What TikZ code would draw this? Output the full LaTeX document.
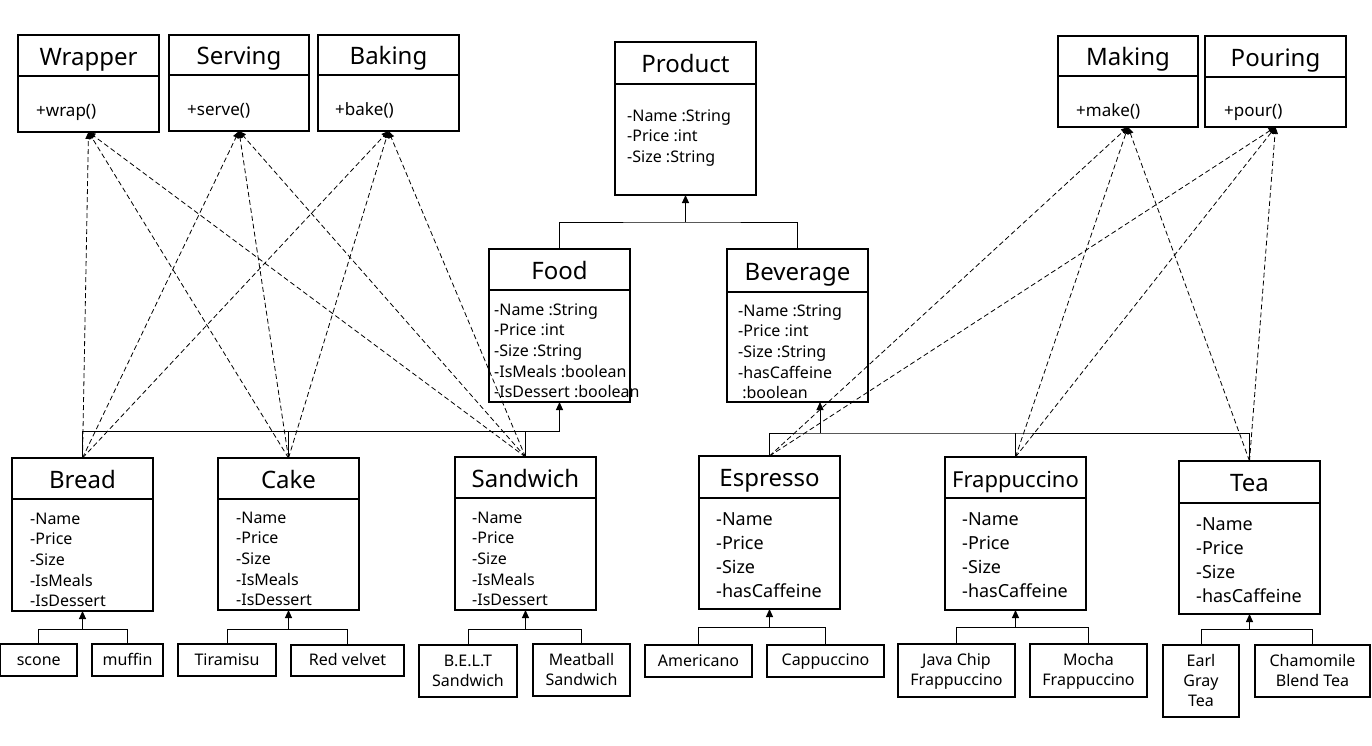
\documentclass[tikz,border=0pt]{standalone}
\usepackage{fontspec}
\setmainfont{Noto Sans}
\usetikzlibrary{arrows.meta,calc}
\tikzset{
  cls/.style={draw, line width=1.2pt, inner sep=0pt, outer sep=0pt, rectangle},
  ttl/.style={font=\fontsize{24}{28}\selectfont, inner sep=0pt, text height=17pt, text depth=5pt},
  attr/.style={font=\fontsize{16}{20.7}\selectfont, inner sep=0pt, anchor=base west},
  attrb/.style={font=\fontsize{18}{24}\selectfont, inner sep=0pt, anchor=base west},
  meth/.style={font=\fontsize{17}{20}\selectfont, inner sep=0pt, anchor=base west},
  leaf/.style={draw, line width=1.2pt, inner sep=0pt, outer sep=0pt, align=center, font=\fontsize{16}{20}\selectfont},
  inh/.style={line width=1pt},
  inharrow/.style={line width=1pt, -{Triangle[length=8pt,width=7pt]}},
  real/.style={line width=0.8pt, dash pattern=on 5pt off 3pt, -{Triangle[length=7pt,width=6pt]}},
}
\newcommand\ml[1]{\begin{tabular}[t]{@{}l@{}}#1\end{tabular}}
\newcommand\lstrut{\rule[-3pt]{0pt}{16pt}}
\newcommand\umlclass[7]{%
  \node[cls, anchor=north west, minimum width={(#4-#2)*1pt}, minimum height={(#5-#3)*1pt}] (#1) at (#2,#3) {};
  \draw[line width=1.2pt] (#2,#6) -- (#4,#6);
  \node[ttl] (#1-title) at ({(#2+#4)/2},{(#3+#6)/2+3.5}) {#7};
}
\newcommand\leafbox[6]{%
  \node[leaf, minimum width={(#4-#2)*1pt}, minimum height={(#5-#3)*1pt}] (#1) at ({(#2+#4)/2},{(#3+#5)/2}) {#6};
}
\begin{document}
\begin{tikzpicture}[x=1pt,y=-1pt]
\fill[white] (0,0) rectangle (1372,745);
\useasboundingbox (0,0) rectangle (1372,745);

% interfaces
\umlclass{wrapper}{18}{35}{159}{132}{76}{Wrapper}
\umlclass{serving}{169}{35}{309}{131}{75}{Serving}
\umlclass{baking}{318}{35}{459}{131}{75}{Baking}
\umlclass{making}{1058}{36}{1198}{127}{76}{Making}
\umlclass{pouring}{1205}{36}{1346}{127}{77}{Pouring}
\node[meth] (wrapper-m) at (36,116) {+wrap()};
\node[meth] (serving-m) at (187,115) {+serve()};
\node[meth] (baking-m) at (335,115) {+bake()};
\node[meth] (making-m) at (1076,116) {+make()};
\node[meth] (pouring-m) at (1224,116) {+pour()};

% product hierarchy
\umlclass{product}{615}{42}{756}{195}{84}{Product}
\node[attr] (product-a) at (627,121) {\ml{-Name :String\\-Price :int\\-Size :String}};
\umlclass{food}{489}{249}{630}{402}{290}{Food}
\node[attr] (food-a) at (494,315) {\ml{-Name :String\\-Price :int\\-Size :String\\-IsMeals :boolean\\-IsDessert :boolean}};
\umlclass{beverage}{727}{249}{868}{402}{292}{Beverage}
\node[attr] (beverage-a) at (738,316) {\ml{-Name :String\\-Price :int\\-Size :String\\-hasCaffeine\\\ :boolean}};

% food subclasses
\umlclass{bread}{12}{458}{153}{611}{499}{Bread}
\node[attr] (bread-a) at (30,524) {\ml{-Name\\-Price\\-Size\\-IsMeals\\-IsDessert}};
\umlclass{cake}{218}{458}{359}{610}{499}{Cake}
\node[attr] (cake-a) at (236,523) {\ml{-Name\\-Price\\-Size\\-IsMeals\\-IsDessert}};
\umlclass{sandwich}{455}{457}{596}{610}{498}{Sandwich}
\node[attr] (sandwich-a) at (472,523) {\ml{-Name\\-Price\\-Size\\-IsMeals\\-IsDessert}};

% beverage subclasses
\umlclass{espresso}{699}{456}{840}{609}{498}{Espresso}
\node[attrb] (espresso-a) at (716,525) {\ml{-Name\\-Price\\-Size\\-hasCaffeine}};
\umlclass{frapp}{945}{457}{1086}{610}{498}{\fontsize{22}{26}\selectfont Frappuccino}
\node[attrb] (frapp-a) at (962,525) {\ml{-Name\\-Price\\-Size\\-hasCaffeine}};
\umlclass{tea}{1179}{461}{1320}{614}{503}{Tea}
\node[attrb] (tea-a) at (1196,530) {\ml{-Name\\-Price\\-Size\\-hasCaffeine}};

% leaves
\leafbox{scone}{0.6}{644}{77}{676}{\lstrut scone}
\leafbox{muffin}{92}{644}{163}{676}{\lstrut muffin}
\leafbox{tiramisu}{178}{644}{276}{676}{\lstrut Tiramisu}
\leafbox{redvelvet}{291}{645}{404}{676}{\lstrut Red velvet}
\leafbox{belt}{419}{645}{517}{697}{\lstrut B.E.L.T\\\lstrut Sandwich}
\leafbox{meatball}{533}{644}{630}{696}{\lstrut Meatball\\\lstrut Sandwich}
\leafbox{americano}{645}{645}{752}{677}{\lstrut Americano}
\leafbox{cappuccino}{767}{645}{884}{677}{\lstrut Cappuccino}
\leafbox{javachip}{898}{644}{1015}{697}{\lstrut Java Chip\\\lstrut Frappuccino}
\leafbox{mocha}{1030}{644}{1147}{697}{\lstrut Mocha\\\lstrut Frappuccino}
\leafbox{earlgray}{1163}{645}{1239}{717}{\lstrut Earl\\\lstrut Gray\\\lstrut Tea}
\leafbox{chamomile}{1255}{645}{1370}{697}{\lstrut Chamomile\\\lstrut Blend Tea}

% inheritance: Product
\coordinate (jp) at (product.south |- 0,222);
\draw[inh] (food.north) |- (jp) -| (beverage.north);
\draw[inharrow] (jp) -- (product.south);

% inheritance: Food
\coordinate (jf) at (food.south |- 0,431);
\draw[inh] (bread.north) |- (jf);
\draw[inh] (cake.north) -- (cake.north |- jf);
\draw[inh] (sandwich.north) -- (sandwich.north |- jf);
\draw[inharrow] (jf) -- (food.south);

% inheritance: Beverage
\coordinate (jv) at (820,433);
\draw[inh] (espresso.north) |- (jv) -| (tea.north);
\draw[inh] (frapp.north) -- (frapp.north |- jv);
\draw[inharrow] (jv) -- (jv |- beverage.south);

% inheritance: leaves
\coordinate (jbr) at (bread.south |- 0,629);
\draw[inh] (scone.north) |- (jbr) -| (muffin.north);
\draw[inharrow] (jbr) -- (bread.south);
\coordinate (jca) at (cake.south |- 0,629);
\draw[inh] (tiramisu.north) |- (jca) -| (redvelvet.north);
\draw[inharrow] (jca) -- (cake.south);
\coordinate (jsa) at (sandwich.south |- 0,629);
\draw[inh] (belt.north) |- (jsa) -| (meatball.north);
\draw[inharrow] (jsa) -- (sandwich.south);
\coordinate (jes) at (espresso.south |- 0,627);
\draw[inh] (americano.north) |- (jes) -| (cappuccino.north);
\draw[inharrow] (jes) -- (espresso.south);
\coordinate (jfr) at (frapp.south |- 0,627);
\draw[inh] (javachip.north) |- (jfr) -| (mocha.north);
\draw[inharrow] (jfr) -- (frapp.south);
\coordinate (jte) at (tea.south |- 0,629);
\draw[inh] (earlgray.north) |- (jte) -| (chamomile.north);
\draw[inharrow] (jte) -- (tea.south);

% realizations (food)
\foreach \s in {bread,cake,sandwich}{
  \foreach \i in {wrapper,serving,baking}{
    \draw[real] (\s.north) -- (\i.south);
  }
}
% realizations (beverage)
\foreach \s in {espresso,frapp,tea}{
  \foreach \i in {making,pouring}{
    \draw[real] (\s.north) -- (\i.south);
  }
}
\end{tikzpicture}
\end{document}
